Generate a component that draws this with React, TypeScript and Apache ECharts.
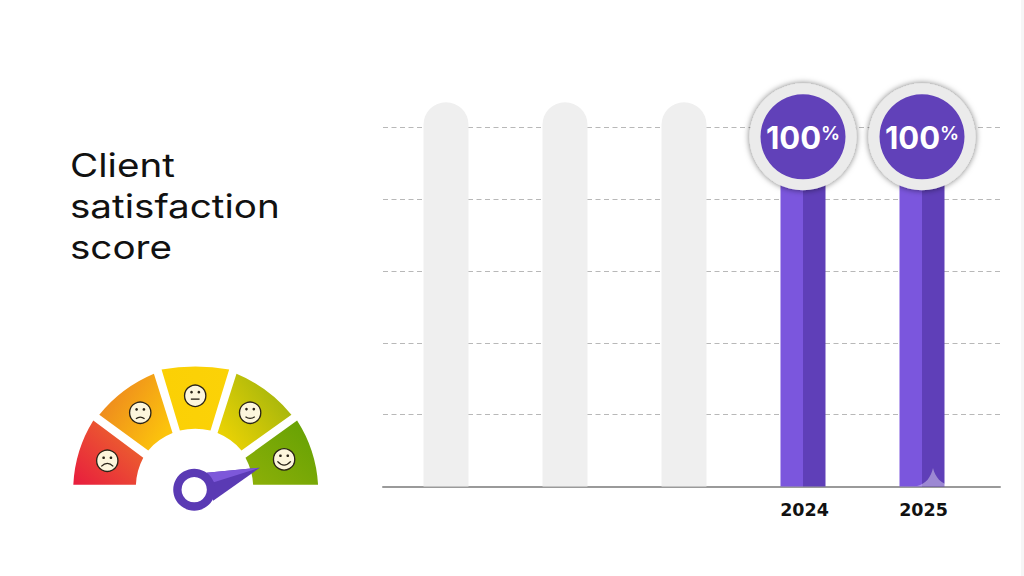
import React, { useEffect, useRef } from "react";
import * as echarts from "echarts";

const categories = ["", "", "", "2024", "2025"];
const trackValues = [107, 107, 107, null, null];
const scoreValues = [null, null, null, 100, 100];
const yTicks = { min: 0, max: 100, interval: 20 };
const titleText = "Client\nsatisfaction\nscore";

const FONT = "Inter";

const segmentPaths = [
  "M40 388 A400 400 0 0 1 100 195 L250 307 A190 190 0 0 0 228 388 Z",
  "M118 178 A420 420 0 0 1 282 55 L338 233 A190 190 0 0 0 265 285 Z",
  "M305 42 A600 600 0 0 1 508 42 L452 225 A220 220 0 0 0 360 225 Z",
  "M530 55 A420 420 0 0 1 695 178 L545 285 A190 190 0 0 0 473 233 Z",
  "M712 195 A400 400 0 0 1 775 388 L580 388 A190 190 0 0 0 557 307 Z",
];
const segmentGradients = [
  { x: 0, y: 1, x2: 0.9, y2: 0.1, a: "#e81c3e", b: "#ec6a2c" },
  { x: 0.1, y: 0.3, x2: 0.9, y2: 0.8, a: "#ee8a1e", b: "#fcc40c" },
  { x: 0, y: 0, x2: 1, y2: 0, a: "#fbd005", b: "#fbd207" },
  { x: 0.1, y: 0.9, x2: 0.9, y2: 0.3, a: "#ecd304", b: "#a6b60c" },
  { x: 0, y: 1, x2: 1, y2: 0, a: "#8eb008", b: "#62a004" },
];
const faces = [
  { cx: 142, cy: 316, mouth: "M124 333 Q142 315 160 333", eyeY: 307 },
  { cx: 241, cy: 172, mouth: "M228 190 Q241 180 254 190", eyeY: 162 },
  { cx: 406, cy: 121, mouth: "M393 131 L419 131", eyeY: 110 },
  { cx: 571, cy: 172, mouth: "M557 184 Q571 194 585 184", eyeY: 161 },
  { cx: 673, cy: 312, mouth: "M653 318 Q673 340 693 318", eyeY: 301 },
];

function registerArtwork() {
  segmentPaths.forEach((d, i) => {
    echarts.graphic.registerShape("seg" + i, echarts.graphic.extendPath(d, {}));
  });
  faces.forEach((f, i) => {
    echarts.graphic.registerShape("mouth" + i, echarts.graphic.extendPath(f.mouth, {}));
  });
  echarts.graphic.registerShape(
    "ghost",
    echarts.graphic.extendPath("M0 18 C9 16 14 9 16 0 C18 9 24 16 34 18 Z", {})
  );
}

function gaugeGraphic() {
  const children: any[] = [];
  segmentPaths.forEach((_, i) => {
    const g = segmentGradients[i];
    children.push({
      type: "seg" + i,
      style: {
        fill: {
          type: "linear",
          x: g.x,
          y: g.y,
          x2: g.x2,
          y2: g.y2,
          colorStops: [
            { offset: 0, color: g.a },
            { offset: 1, color: g.b },
          ],
        },
      },
    });
  });
  faces.forEach((f, i) => {
    children.push({
      type: "circle",
      shape: { cx: f.cx, cy: f.cy, r: 32 },
      style: { fill: "#fdf6dc", stroke: "#2a2418", lineWidth: 4 },
    });
    [-11, 11].forEach((dx) => {
      children.push({
        type: "circle",
        shape: { cx: f.cx + dx, cy: f.eyeY, r: 4 },
        style: { fill: "#2a2418" },
      });
    });
    children.push({
      type: "mouth" + i,
      style: { fill: "none", stroke: "#2a2418", lineWidth: 4 },
    });
  });
  children.push(
    {
      type: "polygon",
      shape: { points: [[460, 436], [600, 337], [440, 352], [450, 400]] },
      style: { fill: "#5a3ab4" },
    },
    {
      type: "polygon",
      shape: { points: [[440, 352], [600, 337], [462, 381]] },
      style: { fill: "#7d58da" },
    },
    {
      type: "ring",
      shape: { cx: 403, cy: 403, r: 63, r0: 38 },
      style: { fill: "#5a3ab4" },
    }
  );
  return {
    type: "group",
    x: 60,
    y: 355.5,
    scaleX: 1 / 3,
    scaleY: 1 / 3,
    children,
  };
}

export default function App() {
  const ref = useRef<HTMLDivElement>(null);

  useEffect(() => {
    document.body.style.margin = "0";
    document.body.style.background = "#ffffff";
    registerArtwork();
    const chart = echarts.init(ref.current!, undefined, { renderer: "svg" });
    const twoTone = {
      type: "linear",
      x: 0,
      y: 0,
      x2: 1,
      y2: 0,
      colorStops: [
        { offset: 0, color: "#7b56dd" },
        { offset: 0.5, color: "#7b56dd" },
        { offset: 0.5, color: "#5f3fb8" },
        { offset: 1, color: "#5f3fb8" },
      ],
    };
    chart.setOption({
      animation: false,
      backgroundColor: "#ffffff",
      grid: [
        { left: 383, width: 617, top: 127.5, height: 359 },
        { left: 386.5, width: 595, top: 55.5, height: 431 },
      ],
      xAxis: [
        {
          gridIndex: 0,
          type: "value",
          min: 0,
          max: 1,
          axisLine: { show: true, onZero: false, lineStyle: { color: "#9a9a9a", width: 2 } },
          axisTick: { show: false },
          axisLabel: { show: false },
          splitLine: { show: false },
        },
        {
          gridIndex: 1,
          type: "category",
          data: categories,
          axisLine: { show: false },
          axisTick: { show: false },
          axisLabel: {
            margin: 14.5,
            padding: [0, 0, 0, 3],
            fontFamily: "DejaVu Sans",
            fontSize: 17.5,
            fontWeight: 700,
            color: "#111111",
          },
        },
      ],
      yAxis: [
        {
          gridIndex: 0,
          type: "value",
          min: yTicks.min,
          max: yTicks.max,
          interval: yTicks.interval,
          axisLine: { show: false },
          axisTick: { show: false },
          axisLabel: { show: false },
          splitLine: {
            show: true,
            lineStyle: { color: "#b8b8b8", type: [5, 3.5], width: 1 },
          },
        },
        {
          gridIndex: 1,
          type: "value",
          min: 0,
          max: 120,
          show: false,
        },
      ],
      series: [
        {
          type: "bar",
          name: "track",
          xAxisIndex: 1,
          yAxisIndex: 1,
          data: trackValues,
          barWidth: 45,
          barGap: "-100%",
          itemStyle: { color: "#efefef", borderRadius: [23, 23, 0, 0] },
          silent: true,
        },
        {
          type: "bar",
          name: "score",
          xAxisIndex: 1,
          yAxisIndex: 1,
          data: scoreValues,
          barWidth: 45,
          barGap: "-100%",
          itemStyle: { color: twoTone },
          silent: true,
        },
        {
          type: "scatter",
          name: "ring",
          xAxisIndex: 1,
          yAxisIndex: 1,
          data: scoreValues,
          symbol: "circle",
          symbolSize: 107,
          symbolOffset: [0, 9.5],
          z: 5,
          itemStyle: {
            opacity: 1,
            color: "#ebebeb",
            shadowBlur: 6,
            shadowColor: "rgba(0,0,0,0.55)",
          },
          silent: true,
        },
        {
          type: "scatter",
          name: "badge",
          xAxisIndex: 1,
          yAxisIndex: 1,
          data: scoreValues,
          symbol: "circle",
          symbolSize: 85,
          symbolOffset: [0, 9.5],
          z: 6,
          itemStyle: { opacity: 1, color: "#6141b9" },
          label: {
            show: true,
            position: "inside",
            offset: [0, 1],
            formatter: (p: any) => `{n|${p.value}}{p|%}`,
            rich: {
              n: { fontFamily: FONT, fontSize: 31, fontWeight: 700, color: "#ffffff", verticalAlign: "middle" },
              p: { fontFamily: FONT, fontSize: 19, fontWeight: 600, color: "#ffffff", padding: [0, 0, 8, 0] },
            },
          },
          silent: true,
        },
      ],
      graphic: [
        {
          type: "text",
          x: 70,
          y: 145,
          scaleX: 1.17,
          style: {
            text: titleText,
            fontFamily: FONT,
            fontSize: 33,
            fontWeight: 400,
            lineHeight: 41,
            fill: "#111111",
          },
        },
        gaugeGraphic(),
        {
          type: "ghost",
          x: 917,
          y: 468,
          z: 20,
          style: { fill: "rgba(255,255,255,0.38)" },
        },
        {
          type: "rect",
          shape: { x: 1021, y: 0, width: 3, height: 576 },
          style: { fill: "#f6f6f6" },
        },
      ],
    });
    return () => chart.dispose();
  }, []);

  return (
    <div
      ref={ref}
      style={{ position: "fixed", left: 0, top: 0, width: 1024, height: 576 }}
    />
  );
}
